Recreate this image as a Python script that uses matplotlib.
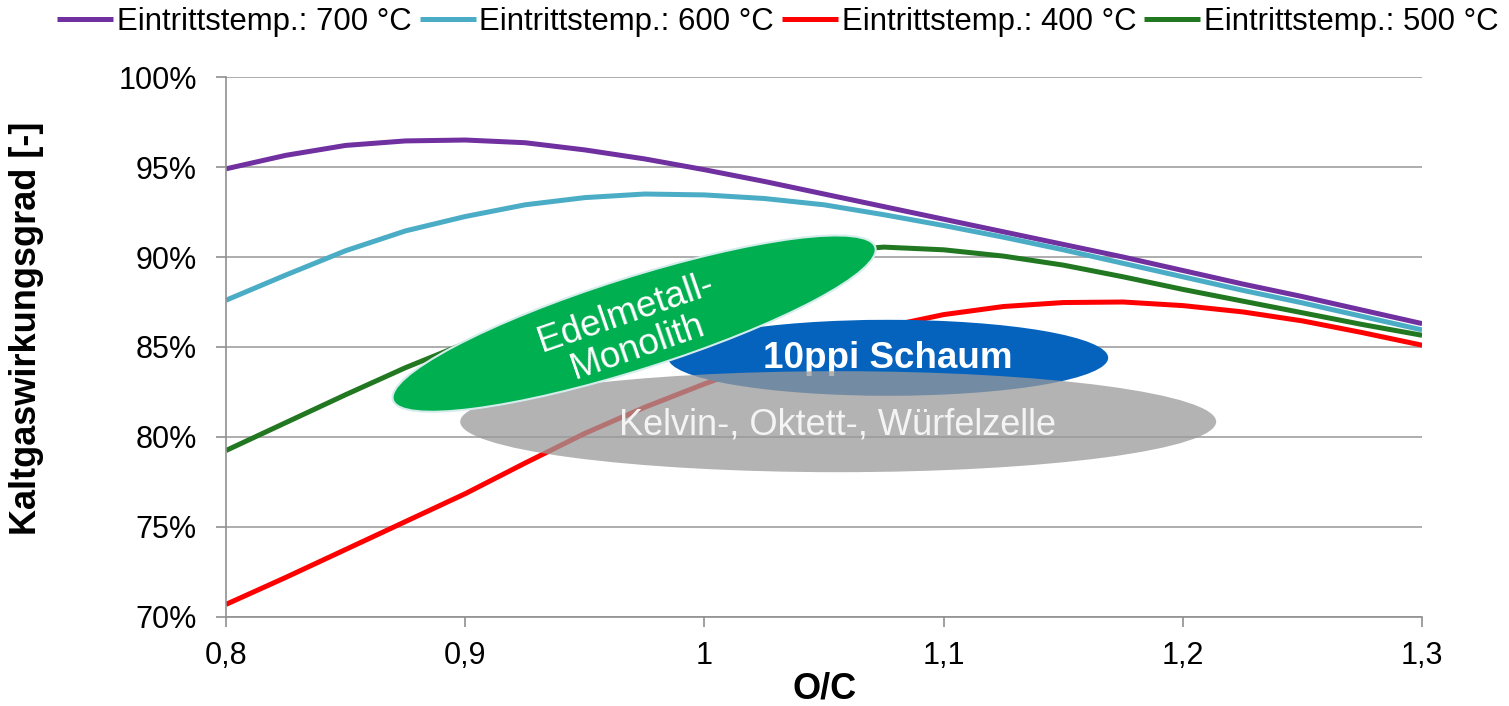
import matplotlib.pyplot as plt
from matplotlib.patches import Ellipse
from matplotlib.transforms import ScaledTranslation
from matplotlib.ticker import FuncFormatter

plt.rcParams['font.family'] = ['Liberation Sans', 'DejaVu Sans']

# O/C ratio and cold gas efficiency (%)
oc = [0.8, 0.825, 0.85, 0.875, 0.9, 0.925, 0.95, 0.975, 1.0, 1.025, 1.05,
      1.075, 1.1, 1.125, 1.15, 1.175, 1.2, 1.225, 1.25, 1.275, 1.3]
eff_700 = [94.9, 95.65, 96.2, 96.45, 96.5, 96.35, 95.95, 95.45, 94.85, 94.2, 93.5,
           92.8, 92.1, 91.4, 90.7, 90.0, 89.25, 88.5, 87.8, 87.05, 86.3]
eff_600 = [87.6, 89.0, 90.35, 91.45, 92.25, 92.9, 93.3, 93.5, 93.45, 93.25, 92.9,
           92.35, 91.75, 91.1, 90.4, 89.65, 88.9, 88.15, 87.45, 86.7, 85.95]
eff_400 = [70.7, 72.2, 73.75, 75.3, 76.85, 78.55, 80.2, 81.65, 82.95, 84.15, 85.2,
           86.1, 86.8, 87.25, 87.47, 87.5, 87.3, 86.95, 86.45, 85.8, 85.1]
eff_500 = [79.25, 80.8, 82.35, 83.85, 85.2, 86.4, 87.45, 88.4, 89.2, 89.85, 90.3,
           90.55, 90.4, 90.05, 89.55, 88.9, 88.2, 87.55, 86.9, 86.25, 85.65]

series = [eff_700, eff_600, eff_400, eff_500]
labels = ['Eintrittstemp.: 700 °C', 'Eintrittstemp.: 600 °C',
          'Eintrittstemp.: 400 °C', 'Eintrittstemp.: 500 °C']
colors = ['#7030A0', '#4BACC6', '#FF0000', '#217821']

x_ticks = [0.8, 0.9, 1.0, 1.1, 1.2, 1.3]
x_ticklabels = ['0,8', '0,9', '1', '1,1', '1,2', '1,3']
y_ticks = [70, 75, 80, 85, 90, 95, 100]

fig = plt.figure(figsize=(15.09, 7.06), dpi=100)
ax = fig.add_axes([0.1498, 0.1261, 0.7926, 0.7648])

for vals, lab, col in zip(series, labels, colors):
    ax.plot(oc, vals, color=col, lw=3.6, label=lab, zorder=2,
            solid_capstyle='butt', solid_joinstyle='round')

ax.set_xlim(0.8, 1.3)
ax.set_ylim(70, 100)
ax.set_xticks(x_ticks)
ax.set_xticklabels(x_ticklabels)
ax.set_yticks(y_ticks)
ax.yaxis.set_major_formatter(FuncFormatter(lambda v, p: f'{v:.0f}%'))
ax.tick_params(axis='both', direction='out', length=7, width=1.2, color='#909090',
               labelsize=22, labelcolor='black')
ax.tick_params(axis='y', pad=14)
ax.tick_params(axis='x', pad=10)
ax.grid(axis='y', color='#A0A0A0', lw=1.2, zorder=0)
ax.set_axisbelow(True)
for s in ['top', 'right']:
    ax.spines[s].set_visible(False)
for s in ['left', 'bottom']:
    ax.spines[s].set_color('#909090')
    ax.spines[s].set_linewidth(1.2)

ax.set_xlabel('O/C', fontsize=26, fontweight='bold', labelpad=1)
ax.set_ylabel('Kaltgaswirkungsgrad [-]', fontsize=26, fontweight='bold')
ax.yaxis.set_label_coords(-0.152, 0.535)


def blob(x, y, w, h, angle, **kw):
    # ellipse sized in inches, centred at a data point
    tr = fig.dpi_scale_trans + ScaledTranslation(x, y, ax.transData)
    e = Ellipse((0, 0), w, h, angle=angle, transform=tr, clip_on=False, **kw)
    ax.add_patch(e)


# 10ppi foam
blob(1.0768, 84.4, 4.40, 0.76, 0, facecolor='#0563BE', edgecolor='none', zorder=3)
ax.text(1.0768, 84.35, '10ppi Schaum', color='white', fontsize=26.5, fontweight='bold',
        ha='center', va='center', zorder=3.5)

# Kelvin / octet / cube cells
blob(1.0559, 80.85, 7.56, 1.01, 0, facecolor='#9A9A9A', alpha=0.75, edgecolor='none', zorder=4)
ax.text(1.0555, 80.65, 'Kelvin-, Oktett-, Würfelzelle', color='#F4F4F4', fontsize=26,
        ha='center', va='center', zorder=4.5)

# noble metal monolith
blob(0.9706, 86.3, 5.06, 0.92, 17.6, facecolor='#00B050', edgecolor='#D5ECEC', lw=1.5, zorder=5)
ax.text(0.9695, 85.95, 'Edelmetall-\nMonolith', color='white', fontsize=26.5, rotation=19,
        ha='center', va='center', multialignment='center', linespacing=1.05,
        rotation_mode='anchor', zorder=6)

fig.legend(loc='upper right', bbox_to_anchor=(0.995, 0.995), ncol=4, frameon=False,
           fontsize=22.4, handlelength=1.8, handletextpad=0.12, columnspacing=0.25,
           borderpad=0.1, borderaxespad=0)

fig.savefig('out.png', dpi=100)
